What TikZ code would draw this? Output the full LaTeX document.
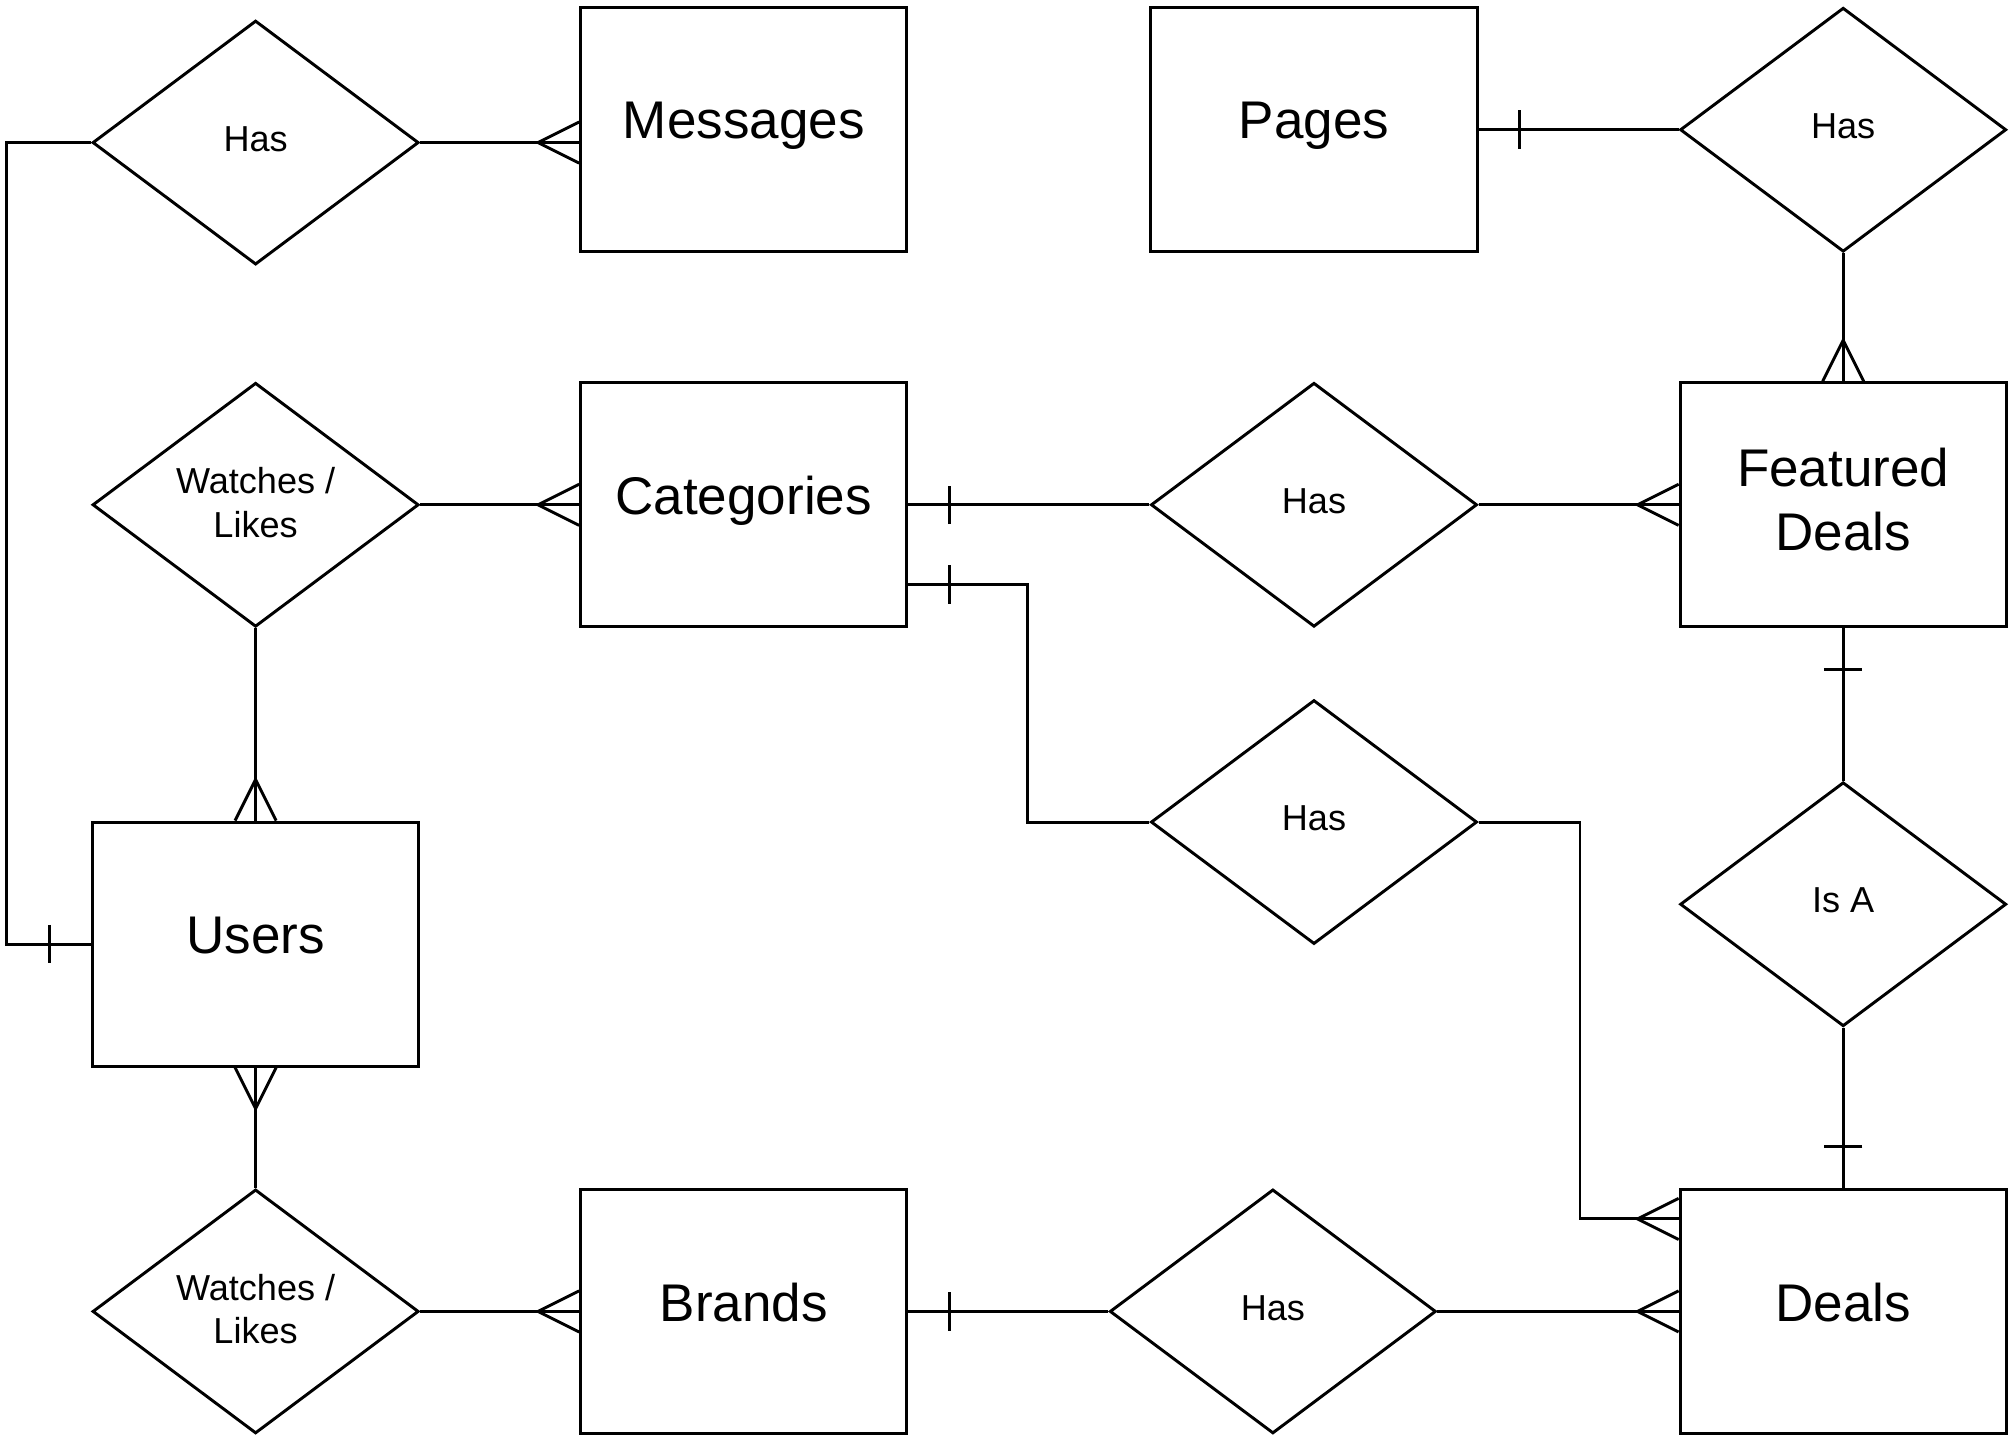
\documentclass[tikz,border=0pt]{standalone}
\usepackage{fontspec}
\setmainfont{Liberation Sans}
\usetikzlibrary{shapes.geometric,calc,decorations.markings}
\tikzset{
	entity/.style={shape=rectangle,draw=black,line width=1.3pt,minimum width=5.08cm,minimum height=3.8cm,align=center,text depth=8pt,font=\fontsize{23.5}{28.2}\selectfont},
	relation/.style={shape=diamond,draw=black,line width=1.3pt,minimum width=5.08cm,minimum height=3.8cm,inner sep=0pt,align=center,text depth=3.4pt,font=\fontsize{16}{19.4}\selectfont},
	link/.style={line width=1.3pt},
	crowfoot/.style={postaction={decorate,decoration={markings,mark=at position 1 with {\draw[line width=1.3pt] (0,0.32cm) -- (-0.64cm,0) -- (0,-0.32cm);}}}},
	onebar/.style={postaction={decorate,decoration={markings,mark=at position -0.64cm with {\draw[line width=1.3pt] (0,0.3cm) -- (0,-0.3cm);}}}}
}
\begin{document}
\begin{tikzpicture}[x=0.02cm,y=-0.02cm]
	\useasboundingbox (0, 0) rectangle (1568, 1122.6);

	\node[entity] (msg) at (579, 101)      {Messages};
	\node[entity] (pages) at (1023, 101)   {Pages};
	\node[entity] (cat) at (579, 393)      {Categories};
	\node[entity,text depth=4.6pt] (feat) at (1435, 393)    {Featured\\Deals};
	\node[entity] (users) at (199, 735)    {Users};
	\node[entity] (brands) at (579, 1021)  {Brands};
	\node[entity] (deals) at (1435, 1021)  {Deals};

	\node[relation] (hasmsg) at (199, 111)    {Has};
	\node[relation] (haspg) at (1435, 101)    {Has};
	\node[relation,text depth=2.3pt] (watchcat) at (199, 393)  {Watches /\\Likes};
	\node[relation] (hasfeat) at (1023, 393)  {Has};
	\node[relation] (hascat) at (1023, 640)   {Has};
	\node[relation] (isa) at (1435, 704)      {Is A};
	\node[relation,text depth=2.3pt] (watchbr) at (199, 1021)  {Watches /\\Likes};
	\node[relation] (hasbr) at (991, 1021)    {Has};

	\draw[link,crowfoot] (hasmsg.east) -- (hasmsg.east -| msg.west);
	\draw[link,onebar] (hasmsg.west) -- ++(-66, 0) |- (users.west);
	\draw[link,onebar] (haspg) -- (pages);
	\draw[link,crowfoot] (haspg) -- (feat);
	\draw[link,crowfoot] (watchcat) -- (cat);
	\draw[link,crowfoot] (watchcat) -- (users);
	\draw[link,onebar] (hasfeat) -- (cat);
	\draw[link,crowfoot] (hasfeat) -- (feat);
	\draw[link,onebar] (hascat.west) -- ++(-95, 0) |- ($(cat.east)+(0, 62)$);
	\draw[link,crowfoot] (hascat.east) -- ++(79, 0) |- ($(deals.west)+(0, -72)$);
	\draw[link,onebar] (isa) -- (feat);
	\draw[link,onebar] (isa) -- (deals);
	\draw[link,crowfoot] (watchbr) -- (users);
	\draw[link,crowfoot] (watchbr) -- (brands);
	\draw[link,onebar] (hasbr) -- (brands);
	\draw[link,crowfoot] (hasbr) -- (deals);

\end{tikzpicture}
\end{document}
